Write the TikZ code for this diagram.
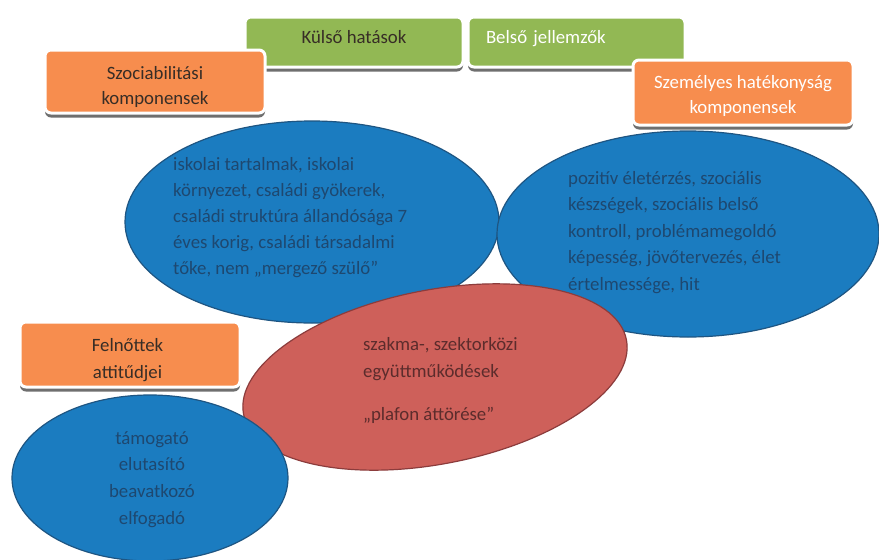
\documentclass[tikz,border=0pt]{standalone}
\usepackage{fontspec}
\setmainfont{Carlito}
\usetikzlibrary{shapes.geometric,shadows}
\definecolor{boxorange}{RGB}{247,141,78}
\definecolor{boxgreen}{RGB}{146,184,84}
\definecolor{ellblue}{RGB}{27,124,192}
\definecolor{ellbluedark}{RGB}{30,85,130}
\definecolor{ellred}{RGB}{206,96,90}
\definecolor{ellreddark}{RGB}{140,60,60}
\definecolor{bluetext}{RGB}{30,72,112}
\definecolor{redtext}{RGB}{92,44,44}
\definecolor{darktext}{RGB}{55,45,38}
\tikzset{
  topbox/.style={draw=white, line width=3pt, rounded corners=6pt, inner sep=0pt,
    drop shadow={shadow xshift=0pt, shadow yshift=-4.5pt, fill=black!70, opacity=.8}},
  greenbox/.style={topbox, fill=boxgreen, minimum width=218pt, minimum height=50pt,
    font=\fontsize{18.8}{22}\selectfont, text height=12pt, text depth=9.4pt},
  orangebox/.style={topbox, fill=boxorange, minimum width=220pt, minimum height=65pt},
  boxtext/.style={align=center, inner sep=0pt, font=\fontsize{18.8}{24.3}\selectfont},
  blob/.style={ellipse, draw=ellbluedark, fill=ellblue, line width=1.2pt, inner sep=0pt},
  blobtext/.style={text=bluetext, align=left, inner sep=0pt, font=\fontsize{18.8}{26}\selectfont}
}
\begin{document}
\begin{tikzpicture}[x=1pt,y=-1pt]
\useasboundingbox[fill=white] (0,0) rectangle (879,560);
% ellipses
\node[blob, minimum width=374pt, minimum height=202pt] (iskola) at (312,222) {};
\node[blob, minimum width=382pt, minimum height=206pt] (hatekony) at (688,234) {};
\node[blob, draw=ellreddark, fill=ellred, rotate=11, minimum width=390pt, minimum height=174pt] (plafon) at (435,377) {};
\node[blob, minimum width=276pt, minimum height=166pt] (attitud) at (150,478) {};
% texts in the ellipses
\node[blobtext, anchor=west] (iskolatxt) at (173,217.5) {iskolai tartalmak, iskolai\\környezet, családi gyökerek,\\családi struktúra állandósága 7\\éves korig, családi társadalmi\\tőke, nem „mergező szülő”};
\node[blobtext, anchor=west, font=\fontsize{18.8}{26.5}\selectfont] (hatekonytxt) at (568,232.5) {pozitív életérzés, szociális\\készségek, szociális belső\\kontroll, problémamegoldó\\képesség, jövőtervezés, élet\\értelmessége, hit};
\node[blobtext, text=redtext, anchor=west, font=\fontsize{18.8}{27}\selectfont] (plafontxt) at (363,380) {szakma-, szektorközi\\együttműködések\\[16pt]„plafon áttörése”};
\node[blobtext, align=center, font=\fontsize{18.8}{26.7}\selectfont] (attitudtxt) at (152,479.5) {támogató\\elutasító\\beavatkozó\\elfogadó};
% boxes on top
\node[greenbox, text=darktext] (kulso) at (354,42) {Külső hatások};
\node[greenbox, text=white, align=left, text width=181pt, minimum width=217pt] (belso) at (576.5,42) {Belső jellemzők};
\node[orangebox, minimum height=63pt] (szocbox) at (155,81.5) {};
\node[boxtext, text=darktext] (szoc) at (155,87) {Szociabilitási\\komponensek};
\node[orangebox] (szembox) at (743,92.5) {};
\node[boxtext, text=white, font=\fontsize{18.8}{24.5}\selectfont] (szem) at (743,96) {Személyes hatékonyság\\komponensek};
\node[orangebox] (felnottbox) at (130,354.5) {};
\node[boxtext, text=darktext, font=\fontsize{18.8}{27}\selectfont] (felnott) at (127.5,359.8) {Felnőttek\\attitűdjei};
\end{tikzpicture}
\end{document}
